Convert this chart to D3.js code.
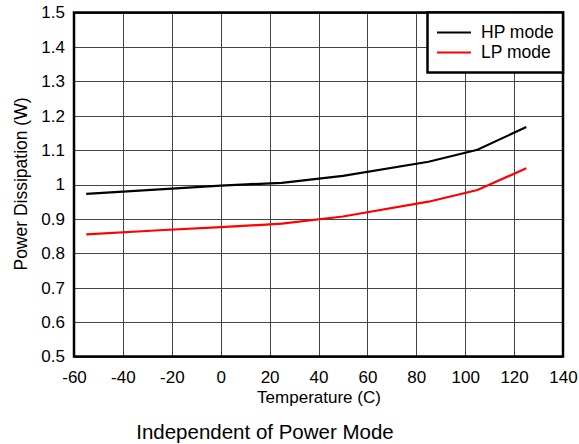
<!DOCTYPE html>
<html><head><meta charset="utf-8">
<script src="https://cdn.jsdelivr.net/npm/d3@7"></script>
<style>body{margin:0;background:#fff}svg{display:block;font-family:"Liberation Sans",Arial,sans-serif}</style>
</head><body><svg id="c" width="579" height="444"></svg>
<script>
const temps = [-55, -25, 0, 25, 50, 85, 105, 125];
const hpMode = [0.973, 0.986, 0.997, 1.005, 1.025, 1.066, 1.101, 1.167];
const lpMode = [0.855, 0.867, 0.876, 0.886, 0.907, 0.950, 0.984, 1.047];
const xTicks = [-60, -40, -20, 0, 20, 40, 60, 80, 100, 120, 140];
const yTicks = [0.5, 0.6, 0.7, 0.8, 0.9, 1, 1.1, 1.2, 1.3, 1.4, 1.5];
const seriesNames = ["HP mode", "LP mode"];
const colors = ["#000000", "#ff0000"];

const svg = d3.select("#c");
const L = 74, R = 563, T = 12.5, B = 356.5;
const FF = "Liberation Sans, Arial, sans-serif";
const x = d3.scaleLinear().domain([-60, 140]).range([L, R]);
const y = d3.scaleLinear().domain([0.5, 1.5]).range([B, T]);

// grid
svg.append("g").attr("transform", `translate(0,${B})`)
  .call(d3.axisBottom(x).tickValues(xTicks).tickSize(-(B - T)).tickFormat(""))
  .call(g => g.select(".domain").remove())
  .selectAll("line").attr("stroke", "#444").attr("stroke-width", 1).attr("shape-rendering", "crispEdges");
svg.append("g").attr("transform", `translate(${L},0)`)
  .call(d3.axisLeft(y).tickValues(yTicks).tickSize(-(R - L)).tickFormat(""))
  .call(g => g.select(".domain").remove())
  .selectAll("line").attr("stroke", "#444").attr("stroke-width", 1).attr("shape-rendering", "crispEdges");

// tick labels
svg.append("g").attr("transform", `translate(0,${B})`)
  .call(d3.axisBottom(x).tickValues(xTicks).tickSize(0).tickPadding(14.5).tickFormat(d => String(d)))
  .call(g => g.select(".domain").remove())
  .selectAll("text").attr("font-size", 17).attr("fill", "#000").attr("font-family", FF);
svg.append("g").attr("transform", `translate(${L},0)`)
  .call(d3.axisLeft(y).tickValues(yTicks).tickSize(0).tickPadding(9).tickFormat(d => String(+d.toFixed(1))))
  .call(g => g.select(".domain").remove())
  .selectAll("text").attr("font-size", 17).attr("fill", "#000").attr("font-family", FF);

// lines
const line = d3.line().x((d, i) => x(temps[i])).y(d => y(d));
[hpMode, lpMode].forEach((s, k) => {
  svg.append("path").datum(s).attr("d", line).attr("fill", "none")
    .attr("stroke", colors[k]).attr("stroke-width", 2.2);
});

// frame
svg.append("rect").attr("x", L).attr("y", T).attr("width", R - L).attr("height", B - T)
  .attr("fill", "none").attr("stroke", "#000").attr("stroke-width", 2.5);

// legend
const lg = svg.append("g");
lg.append("rect").attr("x", 427.5).attr("y", T).attr("width", R - 427.5).attr("height", 60)
  .attr("fill", "#fff").attr("stroke", "#000").attr("stroke-width", 2.5);
seriesNames.forEach((n, k) => {
  const yy = 31.5 + k * 20;
  lg.append("line").attr("x1", 437).attr("x2", 471).attr("y1", yy + 1).attr("y2", yy + 1)
    .attr("stroke", colors[k]).attr("stroke-width", 2.2);
  lg.append("text").attr("x", 481).attr("y", yy).attr("dy", "0.35em").attr("font-size", 17.5).text(n);
});

// axis titles
svg.append("text").attr("x", 319).attr("y", 403).attr("text-anchor", "middle")
  .attr("font-size", 17).text("Temperature (C)");
svg.append("text").attr("transform", `translate(27,184) rotate(-90)`).attr("text-anchor", "middle")
  .attr("font-size", 17.5).text("Power Dissipation (W)");
svg.append("text").attr("x", 265).attr("y", 439).attr("text-anchor", "middle")
  .attr("font-size", 20.5).text("Independent of Power Mode");
</script></body></html>
